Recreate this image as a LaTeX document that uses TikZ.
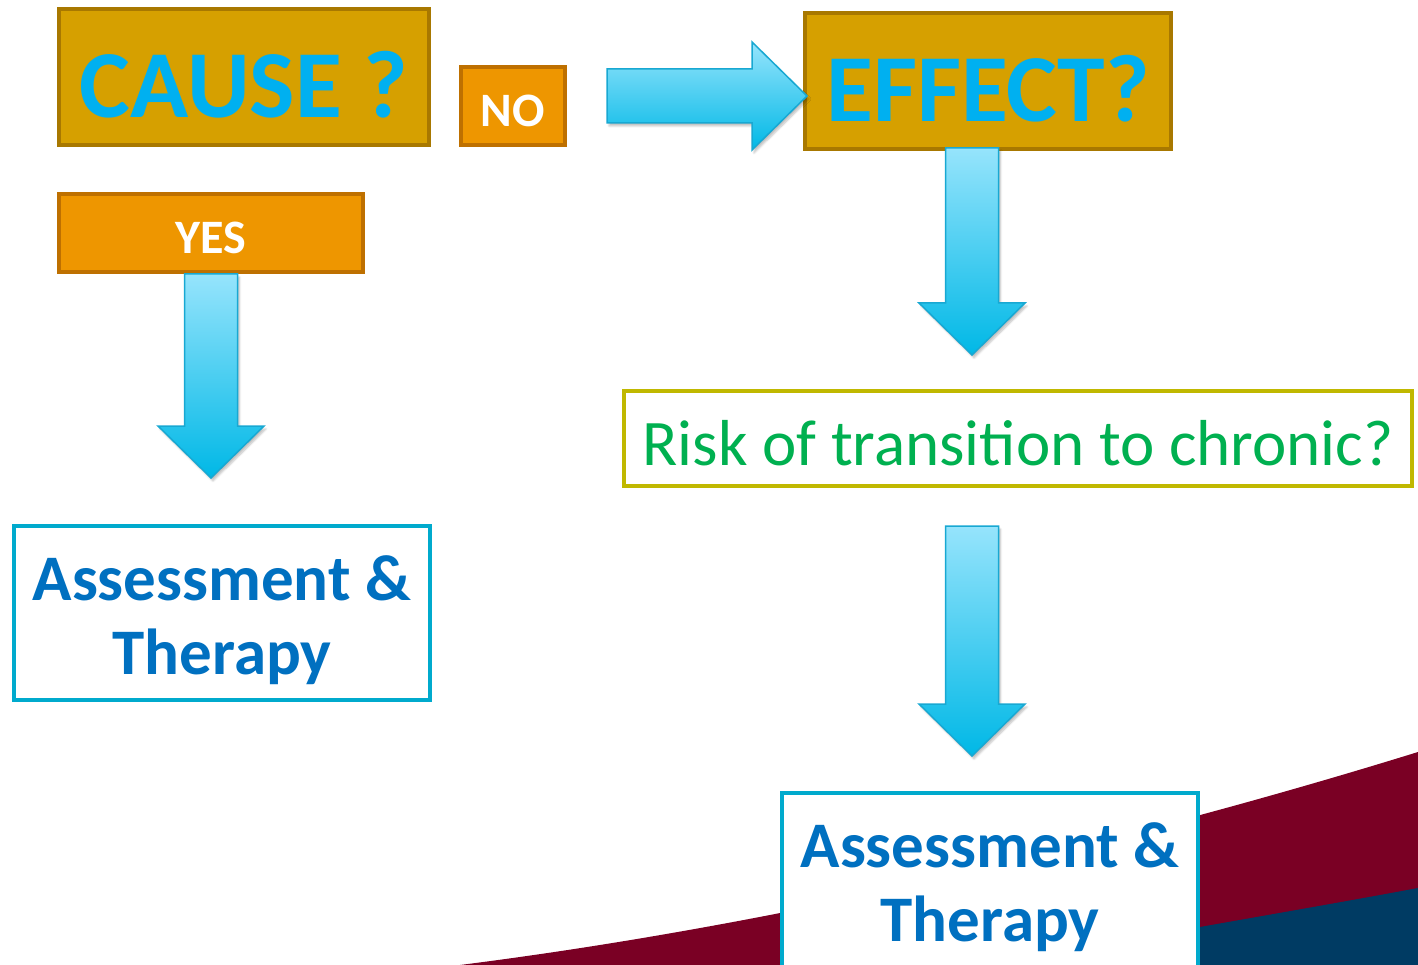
\documentclass[tikz,border=0pt]{standalone}
\usepackage{fontspec}
\setmainfont{Carlito}
\usetikzlibrary{positioning, calc, shadows.blur}
\definecolor{causefill}{RGB}{214, 160, 0}
\definecolor{causeedge}{RGB}{168, 120, 0}
\definecolor{answerfill}{RGB}{238, 150, 0}
\definecolor{answeredge}{RGB}{190, 112, 0}
\definecolor{titlecolor}{RGB}{0, 176, 240}
\definecolor{therapycolor}{RGB}{0, 112, 192}
\definecolor{therapyedge}{RGB}{0, 170, 205}
\definecolor{riskcolor}{RGB}{0, 176, 80}
\definecolor{riskedge}{RGB}{192, 184, 0}
\definecolor{arrowtop}{RGB}{150, 228, 252}
\definecolor{arrowbottom}{RGB}{0, 184, 230}
\definecolor{arrowedge}{RGB}{24, 168, 210}
\definecolor{wavered}{RGB}{122, 0, 36}
\definecolor{waveblue}{RGB}{0, 59, 99}

% fat arrow pointing down: #1 middle of the tail, #2 gives the tip height
\newcommand{\fatdown}[2]{%
  \path[fatarrow] let \p1=(#1), \p2=(#2) in
    (\x1-26.5pt,\y1) -- (\x1+26.5pt,\y1) -- (\x1+26.5pt,\y2+52pt) -- (\x1+53pt,\y2+52pt)
    -- (\x1,\y2) -- (\x1-53pt,\y2+52pt) -- (\x1-26.5pt,\y2+52pt) -- cycle;}
% fat arrow pointing right: #1 middle of the tail, #2 gives the tip
\newcommand{\fatright}[2]{%
  \path[fatarrow] let \p1=(#1), \p2=(#2) in
    (\x1,\y1+27pt) -- (\x2-55pt,\y1+27pt) -- (\x2-55pt,\y1+54pt) -- (\x2,\y1)
    -- (\x2-55pt,\y1-54pt) -- (\x2-55pt,\y1-27pt) -- (\x1,\y1-27pt) -- cycle;}
\newcommand{\tallstrut}{\rule{0pt}{60pt}}

\begin{document}
\begin{tikzpicture}[
    x=1pt, y=-1pt,
    question/.style={rectangle, draw=causeedge, fill=causefill, line width=4pt, inner sep=0pt,
        minimum height=136pt, text=titlecolor, font=\fontsize{96}{96}\selectfont\bfseries,
        text height=81pt, text depth=0pt},
    answer/.style={rectangle, draw=answeredge, fill=answerfill, line width=4pt, inner sep=0pt,
        minimum height=78pt, text=white, font=\fontsize{48}{48}\selectfont\bfseries,
        text height=41pt, text depth=0pt},
    riskbox/.style={rectangle, draw=riskedge, fill=white, line width=4pt, inner sep=0pt,
        text=riskcolor, font=\fontsize{65}{65}\selectfont, text height=53pt, text depth=0pt},
    therapy/.style={rectangle, draw=therapyedge, fill=white, line width=4pt, inner sep=0pt,
        minimum width=416pt, minimum height=174pt, align=center, text=therapycolor,
        font=\fontsize{65}{74}\selectfont\bfseries},
    fatarrow/.style={top color=arrowtop, bottom color=arrowbottom, draw=arrowedge,
        line width=1.5pt, line join=miter,
        blur shadow={shadow xshift=2pt, shadow yshift=-3pt, shadow blur steps=6, shadow opacity=25}},
]
\useasboundingbox (0,0) rectangle (1418,965);
\clip (0,0) rectangle (1418,965);

% ============ background wave ============
\fill[wavered] (460,965) .. controls (800,922) and (1150,835) .. (1418,752) -- (1418,965) -- cycle;
\fill[waveblue] (990,965) .. controls (1150,935) and (1300,910) .. (1418,888) -- (1418,965) -- cycle;

% ============ questions ============
\node[question, minimum width=370pt] (cause) at (244,77) {CAUSE ?};
\node[answer, minimum width=104pt, right=28pt of cause.south east, anchor=south west] (no) {NO};
\node[answer, minimum width=304pt, below=45pt of cause.south west, anchor=north west] (yes) {YES};
\node[question, minimum width=366pt] (effect) at (988,81) {EFFECT?};

% ============ right branch ============
\node[riskbox, minimum width=788pt, minimum height=95pt] (risk) at (1018,438.5) {Risk of transition to chronic?};
\node[therapy] (therapyright) at (990,880) {\tallstrut Assessment \&\\Therapy};

% ============ left branch ============
\node[therapy] (therapyleft) at (222,613) {\tallstrut Assessment \&\\Therapy};

% ============ arrows ============
\coordinate (noout) at (607,96);
\coordinate (effectout) at (972,148);
\coordinate (riskout) at (972,526);

\fatright{noout}{$(effect.west |- noout)+(4,0)$}
\fatdown{yes.south}{$(therapyleft.north)+(0,-46)$}
\fatdown{effectout}{$(risk.north)+(0,-34)$}
\fatdown{riskout}{$(therapyright.north)+(0,-35)$}

\end{tikzpicture}
\end{document}
